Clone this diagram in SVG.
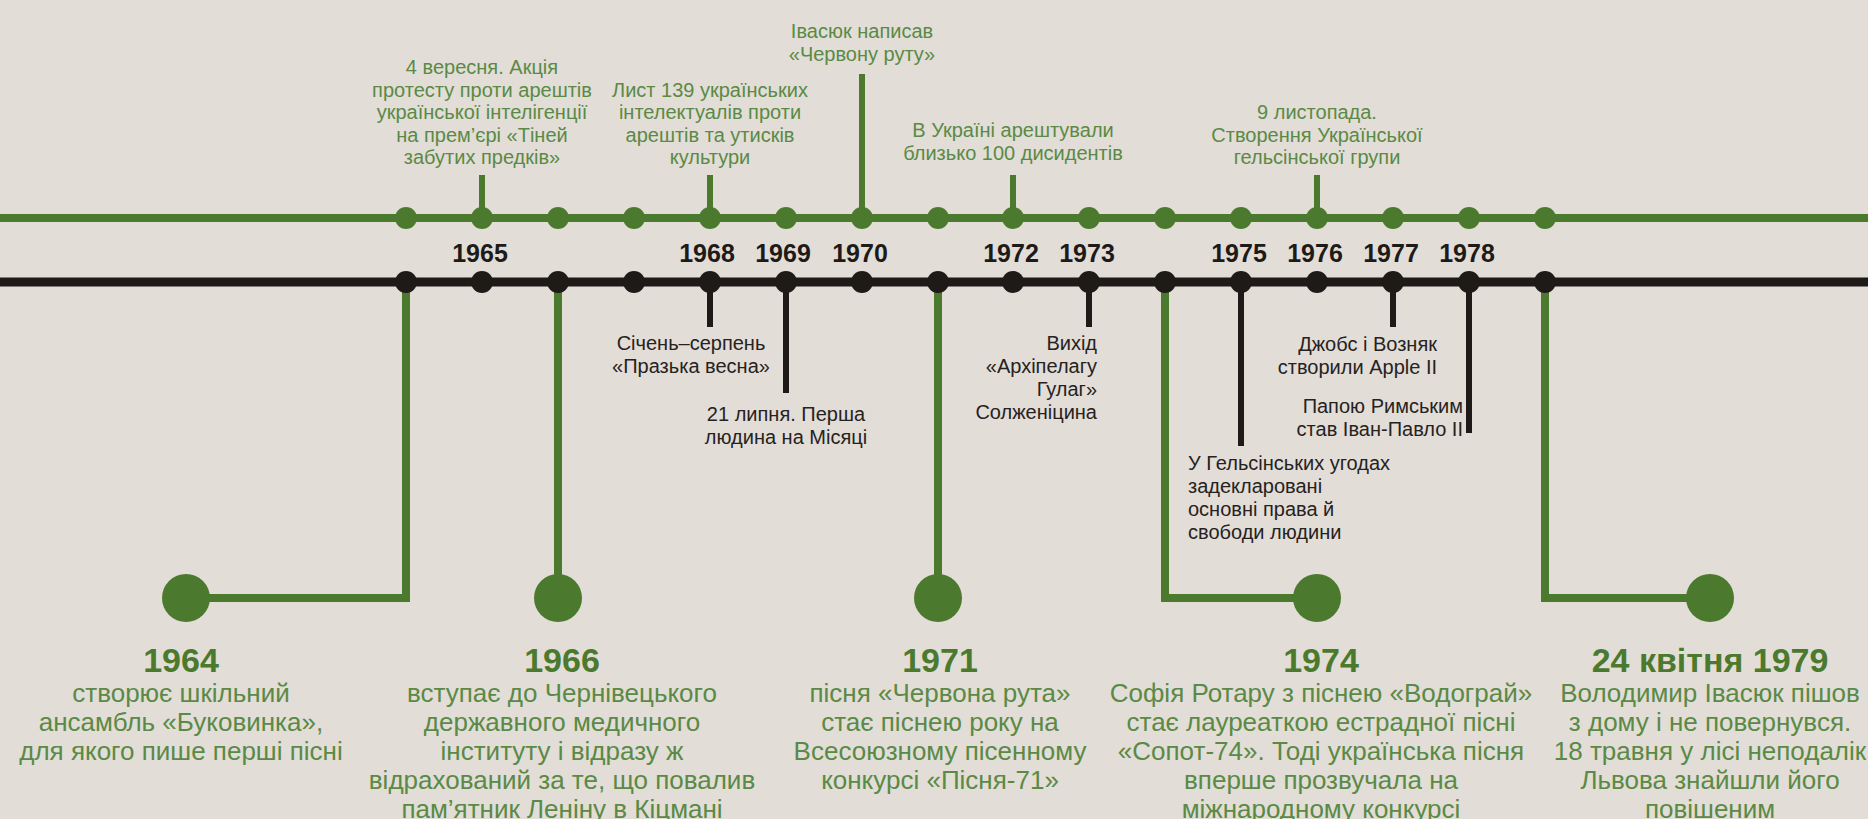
<svg xmlns="http://www.w3.org/2000/svg" width="1868" height="819" viewBox="0 0 1868 819">
<style>
.bg{fill:#e2ddd7}
.gl{stroke:#4b7a2e;fill:none}
.bl{stroke:#1d1a17;fill:none}
.gd{fill:#4b7a2e}
.bd{fill:#1d1a17}
text{font-family:"Liberation Sans",Arial,sans-serif}
.gt{fill:#5a8a45;font-size:20px;text-anchor:middle}
.kt{fill:#26221e;font-size:20px}
.yr{fill:#1d1a17;font-size:25px;font-weight:bold;text-anchor:middle}
.by{fill:#4b7a2e;font-size:34px;font-weight:bold;text-anchor:middle}
.bd2{fill:#5a8a45;font-size:26px;text-anchor:middle}
</style>
<rect class="bg" x="0" y="0" width="1868" height="819"/>
<g id="connectors">
  <line class="gl" x1="0" y1="218" x2="1868" y2="218" stroke-width="8"/>
  <line class="bl" x1="0" y1="282" x2="1868" y2="282" stroke-width="9"/>
  <line class="gl" x1="482" y1="175" x2="482" y2="218" stroke-width="6"/>
  <line class="gl" x1="710" y1="175" x2="710" y2="218" stroke-width="6"/>
  <line class="gl" x1="862" y1="74" x2="862" y2="218" stroke-width="6"/>
  <line class="gl" x1="1013" y1="175" x2="1013" y2="218" stroke-width="6"/>
  <line class="gl" x1="1317" y1="175" x2="1317" y2="218" stroke-width="6"/>
  <line class="bl" x1="710" y1="282" x2="710" y2="327" stroke-width="6"/>
  <line class="bl" x1="786" y1="282" x2="786" y2="393" stroke-width="6"/>
  <line class="bl" x1="1089" y1="282" x2="1089" y2="327" stroke-width="6"/>
  <line class="bl" x1="1241" y1="282" x2="1241" y2="446" stroke-width="6"/>
  <line class="bl" x1="1393" y1="282" x2="1393" y2="327" stroke-width="6"/>
  <line class="bl" x1="1469" y1="282" x2="1469" y2="433" stroke-width="6"/>
  <polyline class="gl" points="406,282 406,598 186,598" stroke-width="8"/>
  <line class="gl" x1="558" y1="282" x2="558" y2="598" stroke-width="8"/>
  <line class="gl" x1="938" y1="282" x2="938" y2="598" stroke-width="8"/>
  <polyline class="gl" points="1165,282 1165,598 1317,598" stroke-width="8"/>
  <polyline class="gl" points="1545,282 1545,598 1710,598" stroke-width="8"/>
</g>
<g id="green-dots">
  <circle class="gd" cx="406" cy="218" r="11"/><circle class="gd" cx="482" cy="218" r="11"/>
  <circle class="gd" cx="558" cy="218" r="11"/><circle class="gd" cx="634" cy="218" r="11"/>
  <circle class="gd" cx="710" cy="218" r="11"/><circle class="gd" cx="786" cy="218" r="11"/>
  <circle class="gd" cx="862" cy="218" r="11"/><circle class="gd" cx="938" cy="218" r="11"/>
  <circle class="gd" cx="1013" cy="218" r="11"/><circle class="gd" cx="1089" cy="218" r="11"/>
  <circle class="gd" cx="1165" cy="218" r="11"/><circle class="gd" cx="1241" cy="218" r="11"/>
  <circle class="gd" cx="1317" cy="218" r="11"/><circle class="gd" cx="1393" cy="218" r="11"/>
  <circle class="gd" cx="1469" cy="218" r="11"/><circle class="gd" cx="1545" cy="218" r="11"/>
</g>
<g id="black-dots">
  <circle class="bd" cx="406" cy="282" r="11"/><circle class="bd" cx="482" cy="282" r="11"/>
  <circle class="bd" cx="558" cy="282" r="11"/><circle class="bd" cx="634" cy="282" r="11"/>
  <circle class="bd" cx="710" cy="282" r="11"/><circle class="bd" cx="786" cy="282" r="11"/>
  <circle class="bd" cx="862" cy="282" r="11"/><circle class="bd" cx="938" cy="282" r="11"/>
  <circle class="bd" cx="1013" cy="282" r="11"/><circle class="bd" cx="1089" cy="282" r="11"/>
  <circle class="bd" cx="1165" cy="282" r="11"/><circle class="bd" cx="1241" cy="282" r="11"/>
  <circle class="bd" cx="1317" cy="282" r="11"/><circle class="bd" cx="1393" cy="282" r="11"/>
  <circle class="bd" cx="1469" cy="282" r="11"/><circle class="bd" cx="1545" cy="282" r="11"/>
</g>
<g id="year-labels">
  <text class="yr" x="480" y="262">1965</text>
  <text class="yr" x="707" y="262">1968</text>
  <text class="yr" x="783" y="262">1969</text>
  <text class="yr" x="860" y="262">1970</text>
  <text class="yr" x="1011" y="262">1972</text>
  <text class="yr" x="1087" y="262">1973</text>
  <text class="yr" x="1239" y="262">1975</text>
  <text class="yr" x="1315" y="262">1976</text>
  <text class="yr" x="1391" y="262">1977</text>
  <text class="yr" x="1467" y="262">1978</text>
</g>
<g id="top-1965">
  <text class="gt" x="482" y="74">4 вересня. Акція</text>
  <text class="gt" x="482" y="97">протесту проти арештів</text>
  <text class="gt" x="482" y="119">української інтелігенції</text>
  <text class="gt" x="482" y="142">на прем’єрі «Тіней</text>
  <text class="gt" x="482" y="164">забутих предків»</text>
</g>
<g id="top-1968">
  <text class="gt" x="710" y="97">Лист 139 українських</text>
  <text class="gt" x="710" y="119">інтелектуалів проти</text>
  <text class="gt" x="710" y="142">арештів та утисків</text>
  <text class="gt" x="710" y="164">культури</text>
</g>
<g id="top-1970">
  <text class="gt" x="862" y="38">Івасюк написав</text>
  <text class="gt" x="862" y="61">«Червону руту»</text>
</g>
<g id="top-1972">
  <text class="gt" x="1013" y="137">В Україні арештували</text>
  <text class="gt" x="1013" y="160">близько 100 дисидентів</text>
</g>
<g id="top-1976">
  <text class="gt" x="1317" y="119">9 листопада.</text>
  <text class="gt" x="1317" y="142">Створення Української</text>
  <text class="gt" x="1317" y="164">гельсінської групи</text>
</g>
<g id="bot-1968">
  <text class="kt" x="691" y="350" text-anchor="middle">Січень–серпень</text>
  <text class="kt" x="691" y="373" text-anchor="middle">«Празька весна»</text>
</g>
<g id="bot-1969">
  <text class="kt" x="786" y="421" text-anchor="middle">21 липня. Перша</text>
  <text class="kt" x="786" y="444" text-anchor="middle">людина на Місяці</text>
</g>
<g id="bot-1973">
  <text class="kt" x="1097" y="350" text-anchor="end">Вихід</text>
  <text class="kt" x="1097" y="373" text-anchor="end">«Архіпелагу</text>
  <text class="kt" x="1097" y="396" text-anchor="end">Гулаг»</text>
  <text class="kt" x="1097" y="419" text-anchor="end">Солженіцина</text>
</g>
<g id="bot-1975">
  <text class="kt" x="1188" y="470">У Гельсінських угодах</text>
  <text class="kt" x="1188" y="493">задекларовані</text>
  <text class="kt" x="1188" y="516">основні права й</text>
  <text class="kt" x="1188" y="539">свободи людини</text>
</g>
<g id="bot-1977">
  <text class="kt" x="1437" y="351" text-anchor="end">Джобс і Возняк</text>
  <text class="kt" x="1437" y="374" text-anchor="end">створили Apple II</text>
</g>
<g id="bot-1978">
  <text class="kt" x="1463" y="413" text-anchor="end">Папою Римським</text>
  <text class="kt" x="1463" y="436" text-anchor="end">став Іван-Павло II</text>
</g>
<g id="node-1964">
  <circle class="gd" cx="186" cy="598" r="24"/>
  <text class="by" x="181" y="672">1964</text>
  <text class="bd2" x="181" y="702">створює шкільний</text>
  <text class="bd2" x="181" y="731">ансамбль «Буковинка»,</text>
  <text class="bd2" x="181" y="760">для якого пише перші пісні</text>
</g>
<g id="node-1966">
  <circle class="gd" cx="558" cy="598" r="24"/>
  <text class="by" x="562" y="672">1966</text>
  <text class="bd2" x="562" y="702">вступає до Чернівецького</text>
  <text class="bd2" x="562" y="731">державного медичного</text>
  <text class="bd2" x="562" y="760">інституту і відразу ж</text>
  <text class="bd2" x="562" y="789">відрахований за те, що повалив</text>
  <text class="bd2" x="562" y="818">пам’ятник Леніну в Кіцмані</text>
</g>
<g id="node-1971">
  <circle class="gd" cx="938" cy="598" r="24"/>
  <text class="by" x="940" y="672">1971</text>
  <text class="bd2" x="940" y="702">пісня «Червона рута»</text>
  <text class="bd2" x="940" y="731">стає піснею року на</text>
  <text class="bd2" x="940" y="760">Всесоюзному пісенному</text>
  <text class="bd2" x="940" y="789">конкурсі «Пісня-71»</text>
</g>
<g id="node-1974">
  <circle class="gd" cx="1317" cy="598" r="24"/>
  <text class="by" x="1321" y="672">1974</text>
  <text class="bd2" x="1321" y="702">Софія Ротару з піснею «Водограй»</text>
  <text class="bd2" x="1321" y="731">стає лауреаткою естрадної пісні</text>
  <text class="bd2" x="1321" y="760">«Сопот-74». Тоді українська пісня</text>
  <text class="bd2" x="1321" y="789">вперше прозвучала на</text>
  <text class="bd2" x="1321" y="818">міжнародному конкурсі</text>
</g>
<g id="node-1979">
  <circle class="gd" cx="1710" cy="598" r="24"/>
  <text class="by" x="1710" y="672">24 квітня 1979</text>
  <text class="bd2" x="1710" y="702">Володимир Івасюк пішов</text>
  <text class="bd2" x="1710" y="731">з дому і не повернувся.</text>
  <text class="bd2" x="1710" y="760">18 травня у лісі неподалік</text>
  <text class="bd2" x="1710" y="789">Львова знайшли його</text>
  <text class="bd2" x="1710" y="818">повішеним</text>
</g>
</svg>
